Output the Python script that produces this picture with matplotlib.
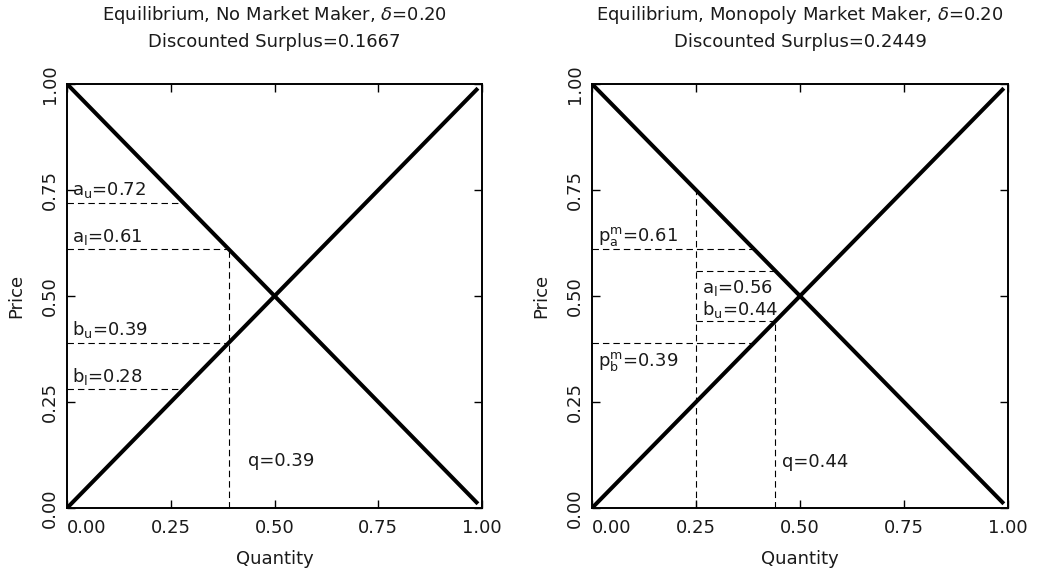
import numpy as np
import matplotlib
matplotlib.use("Agg")
import matplotlib.pyplot as plt

# curve endpoints (quantity grid runs 0 .. 0.99)
q_grid = [0.0, 0.99]
ticks = [0.0, 0.25, 0.5, 0.75, 1.0]
tick_labels = ["0.00", "0.25", "0.50", "0.75", "1.00"]

# left panel: no market maker
nm_title = r"Equilibrium, No Market Maker, $\mathit{\delta}$=0.20"
nm_surplus = 0.1667
nm_names = ["a_u", "a_l", "b_u", "b_l"]
nm_prices = [0.72, 0.61, 0.39, 0.28]
nm_side = ["ask", "ask", "bid", "bid"]
nm_q = 0.39

# right panel: monopoly market maker
mm_title = r"Equilibrium, Monopoly Market Maker, $\mathit{\delta}$=0.20"
mm_surplus = 0.2449
mm_pa = 0.61
mm_pb = 0.39
mm_al = 0.56
mm_bu = 0.44
mm_qlo = 0.25
mm_q = 0.44

FS = 13
TXT = "#1a1a1a"
plt.rcParams["font.family"] = "DejaVu Sans"
plt.rcParams["mathtext.default"] = "regular"
plt.rcParams["font.size"] = FS
plt.rcParams["text.color"] = TXT
plt.rcParams["axes.labelcolor"] = TXT

DASH = (0, (5.8, 3.6))
DLW = 0.8

fig = plt.figure(figsize=(10.41, 5.71), dpi=100)
ax1 = fig.add_axes([0.0644, 0.1103, 0.3987, 0.7426])
ax2 = fig.add_axes([0.5687, 0.1103, 0.3996, 0.7426])


def setup(ax, title, surplus):
    q = np.array(q_grid)
    ax.plot(q, 1 - q, color="black", lw=2.9, solid_capstyle="butt")
    ax.plot(q, q, color="black", lw=2.9, solid_capstyle="butt")
    ax.set_xlim(0, 1)
    ax.set_ylim(0, 1)
    ax.set_xticks(ticks)
    ax.set_xticklabels(tick_labels)
    ax.set_yticks(ticks)
    ax.set_yticklabels(tick_labels)
    ax.tick_params(direction="in", length=6, width=1, top=True, right=True,
                   labelsize=FS, colors="black", labelcolor=TXT)
    ax.tick_params(axis="x", pad=8)
    ax.tick_params(axis="y", pad=6)
    plt.setp(ax.get_yticklabels(), rotation=90, va="center")
    ax.get_xticklabels()[0].set_ha("left")
    for s in ax.spines.values():
        s.set_linewidth(1.4)
    ax.set_xlabel("Quantity")
    ax.set_ylabel("Price")
    ax.xaxis.set_label_coords(0.5, -0.10)
    ax.yaxis.set_label_coords(-0.10, 0.5)
    ax.text(0.5, 1.163, title, transform=ax.transAxes, ha="center", va="center")
    ax.text(0.5, 1.099, f"Discounted Surplus={surplus:.4f}",
            transform=ax.transAxes, ha="center", va="center")


setup(ax1, nm_title, nm_surplus)
setup(ax2, mm_title, mm_surplus)

# left panel annotations
for name, p, side in zip(nm_names, nm_prices, nm_side):
    xend = 1 - p if side == "ask" else p
    ax1.plot([0, xend], [p, p], color="black", lw=DLW, ls=DASH)
    ax1.text(0.012, p + 0.018, f"${name}$={p:.2f}", ha="left", va="baseline")
ax1.plot([nm_q, nm_q], [0, 1 - nm_q], color="black", lw=DLW, ls=DASH)
ax1.text(nm_q + 0.046, 0.10, f"q={nm_q:.2f}", ha="left", va="baseline")

# right panel annotations
ax2.plot([0, 1 - mm_pa], [mm_pa, mm_pa], color="black", lw=DLW, ls=DASH)
ax2.plot([0, mm_pb], [mm_pb, mm_pb], color="black", lw=DLW, ls=DASH)
ax2.plot([mm_qlo, mm_qlo], [0, 1 - mm_qlo], color="black", lw=DLW, ls=DASH)
ax2.plot([mm_qlo, 1 - mm_al], [mm_al, mm_al], color="black", lw=DLW, ls=DASH)
ax2.plot([mm_qlo, mm_bu], [mm_bu, mm_bu], color="black", lw=DLW, ls=DASH)
ax2.plot([mm_q, mm_q], [0, mm_q], color="black", lw=DLW, ls=DASH)
ax2.text(0.014, mm_pa + 0.019, f"$p_a^m$={mm_pa:.2f}", ha="left", va="baseline")
ax2.text(0.014, mm_pb - 0.057, f"$p_b^m$={mm_pb:.2f}", ha="left", va="baseline")
ax2.text(mm_qlo + 0.014, mm_al - 0.052, f"$a_l$={mm_al:.2f}", ha="left", va="baseline")
ax2.text(mm_qlo + 0.014, mm_bu + 0.016, f"$b_u$={mm_bu:.2f}", ha="left", va="baseline")
ax2.text(mm_q + 0.017, 0.097, f"q={mm_q:.2f}", ha="left", va="baseline")

fig.savefig("out.png", dpi=100)
